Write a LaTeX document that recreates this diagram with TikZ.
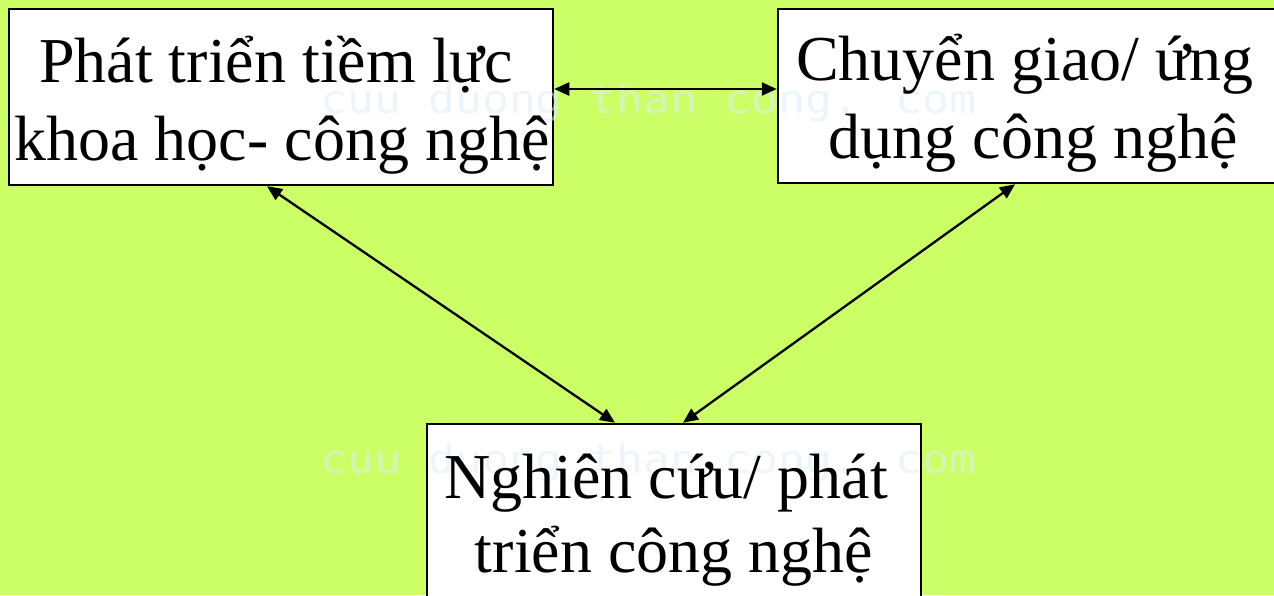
\documentclass[tikz,border=0pt]{standalone}
\usepackage{fontspec}
\setmainfont{Liberation Serif}
\newfontfamily\wmfont{DejaVu Sans Mono}
\usetikzlibrary{arrows.meta}
\definecolor{bggreen}{RGB}{204,255,102}
\definecolor{wmblue}{RGB}{222,238,250}
\tikzset{
  boxnode/.style={draw=black, fill=white, line width=2.5pt, rectangle, inner sep=0pt},
  txt/.style={anchor=base, inner sep=0pt, font=\fontsize{64}{78}\selectfont},
  link/.style={line width=2.3pt, {Triangle[length=15pt,width=13pt]}-{Triangle[length=15pt,width=13pt]}},
  wm/.style={anchor=base west, inner sep=0pt, text=wmblue, text opacity=0.55, xscale=1.12, font=\wmfont\fontsize{40}{40}\selectfont}
}
\begin{document}
\begin{tikzpicture}[x=1pt,y=-1pt]
\useasboundingbox (0,0) rectangle (1274,595);
\fill[bggreen] (0,0) rectangle (1274,595);
% boxes
\node[boxnode, minimum width=544pt, minimum height=176pt] (b1) at (281,97) {};
\node[boxnode, minimum width=512pt, minimum height=174pt] (b2) at (1034,96) {};
\node[boxnode, minimum width=494pt, minimum height=216pt] (b3) at (674,532) {};
% watermark
\node[wm] (w1) at (320,113) {cuu duong than cong. com};
\node[wm] (w2) at (320,473) {cuu duong than cong. com};
% texts
\node[txt] (t1a) at (276,82) {Phát triển tiềm lực};
\node[txt] (t1b) at (282,160) {khoa học- công nghệ};
\node[txt] (t2a) at (1025,80) {Chuyển giao/ ứng};
\node[txt] (t2b) at (1033,158) {dụng công nghệ};
\node[txt] (t3a) at (666,498) {Nghiên cứu/ phát};
\node[txt] (t3b) at (674,572) {triển công nghệ};
% connectors
\draw[link] ([yshift=8pt]b1.east) -- ([yshift=8pt]b2.west |- b1.east);
\draw[link] ([xshift=-14pt]b1.south) -- ([xshift=-59pt]b3.north);
\draw[link] ([xshift=-19pt]b2.south) -- ([xshift=9pt]b3.north);
\end{tikzpicture}
\end{document}
